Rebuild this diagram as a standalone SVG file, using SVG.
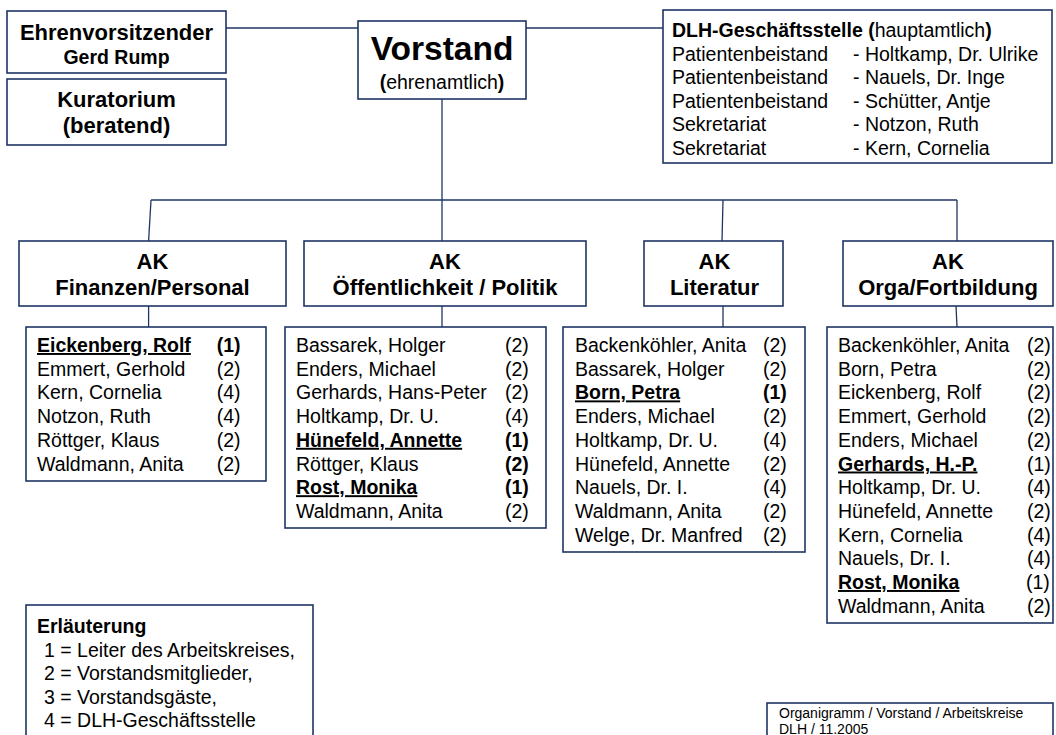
<svg xmlns="http://www.w3.org/2000/svg" width="1056" height="735" viewBox="0 0 1056 735">
<style>
  .box { fill: #ffffff; stroke: #1f3565; stroke-width: 1.6; }
  .ln { fill: none; stroke: #1f3565; stroke-width: 1.3; }
  text { font-family: "Liberation Sans", Arial, sans-serif; fill: #000000; }
  .t22 { font-size: 22px; font-weight: bold; }
  .sub { font-size: 19.5px; font-weight: bold; }
  .ls { font-size: 19.5px; }
  .dl { font-size: 19.5px; }
  .b { font-weight: bold; }
  .u { font-weight: bold; text-decoration: underline; }
  .mid { text-anchor: middle; }
</style>
<rect width="1056" height="735" fill="#ffffff"/>

<g id="connectors">
  <line class="ln" x1="226" y1="28" x2="358" y2="28"/>
  <line class="ln" x1="526" y1="28" x2="663" y2="28"/>
  <line class="ln" x1="442" y1="99" x2="442" y2="241"/>
  <line class="ln" x1="151" y1="200" x2="957" y2="200"/>
  <line class="ln" x1="151" y1="200" x2="148.6" y2="241"/>
  <line class="ln" x1="723" y1="200" x2="722" y2="241"/>
  <line class="ln" x1="957" y1="200" x2="957" y2="241"/>
  <line class="ln" x1="148.6" y1="306" x2="148.6" y2="327"/>
  <line class="ln" x1="442" y1="306" x2="442" y2="327"/>
  <line class="ln" x1="723" y1="306" x2="723" y2="327"/>
  <line class="ln" x1="956" y1="306" x2="957" y2="327"/>
</g>

<g id="ehrenvorsitzender">
  <rect class="box" x="7" y="11" width="219" height="62"/>
  <text class="t22 mid" x="116.5" y="39.5">Ehrenvorsitzender</text>
  <text class="sub mid" x="116.5" y="63.5">Gerd Rump</text>
</g>

<g id="kuratorium">
  <rect class="box" x="7" y="79" width="219" height="66"/>
  <text class="t22 mid" x="116.5" y="107">Kuratorium</text>
  <text class="t22 mid" x="116.5" y="133">(beratend)</text>
</g>

<g id="vorstand">
  <rect class="box" x="358" y="21" width="168" height="78"/>
  <text class="mid" x="442" y="59.5" style="font-size:33.5px;font-weight:bold">Vorstand</text>
  <text class="mid" x="442" y="88.5" style="font-size:19.5px"><tspan class="b">(</tspan>ehrenamtlich<tspan class="b">)</tspan></text>
</g>

<g id="geschaeftsstelle">
  <rect class="box" x="663" y="10" width="389" height="153"/>
  <text class="dl" x="672" y="37"><tspan class="b">DLH-Geschäftsstelle (</tspan>hauptamtlich<tspan class="b">)</tspan></text>
  <text class="dl" x="672" y="60.5">Patientenbeistand</text>
  <text class="dl" x="853" y="60.5">- Holtkamp, Dr. Ulrike</text>
  <text class="dl" x="672" y="84">Patientenbeistand</text>
  <text class="dl" x="853" y="84">- Nauels, Dr. Inge</text>
  <text class="dl" x="672" y="107.5">Patientenbeistand</text>
  <text class="dl" x="853" y="107.5">- Schütter, Antje</text>
  <text class="dl" x="672" y="131">Sekretariat</text>
  <text class="dl" x="853" y="131">- Notzon, Ruth</text>
  <text class="dl" x="672" y="154.5">Sekretariat</text>
  <text class="dl" x="853" y="154.5">- Kern, Cornelia</text>
</g>

<g id="ak-finanzen">
  <rect class="box" x="19" y="241" width="267" height="65"/>
  <text class="t22 mid" x="152.5" y="269">AK</text>
  <text class="t22 mid" x="152.5" y="295">Finanzen/Personal</text>
</g>
<g id="ak-oeffentlichkeit">
  <rect class="box" x="304" y="241" width="282" height="65"/>
  <text class="t22 mid" x="445" y="269">AK</text>
  <text class="t22 mid" x="445" y="295">Öffentlichkeit / Politik</text>
</g>
<g id="ak-literatur">
  <rect class="box" x="644" y="241" width="139" height="65"/>
  <text class="t22 mid" x="714.5" y="269">AK</text>
  <text class="t22 mid" x="714.5" y="295">Literatur</text>
</g>
<g id="ak-orga">
  <rect class="box" x="843" y="241" width="210" height="65"/>
  <text class="t22 mid" x="948" y="269">AK</text>
  <text class="t22 mid" x="948" y="295">Orga/Fortbildung</text>
</g>

<g id="liste-finanzen" class="ls">
  <rect class="box" x="26" y="327" width="240" height="154"/>
  <text class="ls u" x="37" y="352">Eickenberg, Rolf</text><text class="ls b" x="216.7" y="352">(1)</text>
  <text class="ls" x="37" y="375.7">Emmert, Gerhold</text><text class="ls" x="216.7" y="375.7">(2)</text>
  <text class="ls" x="37" y="399.4">Kern, Cornelia</text><text class="ls" x="216.7" y="399.4">(4)</text>
  <text class="ls" x="37" y="423.1">Notzon, Ruth</text><text class="ls" x="216.7" y="423.1">(4)</text>
  <text class="ls" x="37" y="446.8">Röttger, Klaus</text><text class="ls" x="216.7" y="446.8">(2)</text>
  <text class="ls" x="37" y="470.5">Waldmann, Anita</text><text class="ls" x="216.7" y="470.5">(2)</text>
</g>

<g id="liste-oeffentlichkeit">
  <rect class="box" x="285" y="327" width="261" height="201"/>
  <text class="ls" x="296" y="352">Bassarek, Holger</text><text class="ls" x="505" y="352">(2)</text>
  <text class="ls" x="296" y="375.7">Enders, Michael</text><text class="ls" x="505" y="375.7">(2)</text>
  <text class="ls" x="296" y="399.4">Gerhards, Hans-Peter</text><text class="ls" x="505" y="399.4">(2)</text>
  <text class="ls" x="296" y="423.1">Holtkamp, Dr. U.</text><text class="ls" x="505" y="423.1">(4)</text>
  <text class="ls u" x="296" y="446.8">Hünefeld, Annette</text><text class="ls b" x="505" y="446.8">(1)</text>
  <text class="ls" x="296" y="470.5">Röttger, Klaus</text><text class="ls b" x="505" y="470.5">(2)</text>
  <text class="ls u" x="296" y="494.2">Rost, Monika</text><text class="ls b" x="505" y="494.2">(1)</text>
  <text class="ls" x="296" y="517.9">Waldmann, Anita</text><text class="ls" x="505" y="517.9">(2)</text>
</g>

<g id="liste-literatur">
  <rect class="box" x="563" y="327" width="242" height="225"/>
  <text class="ls" x="575" y="352">Backenköhler, Anita</text><text class="ls" x="763" y="352">(2)</text>
  <text class="ls" x="575" y="375.7">Bassarek, Holger</text><text class="ls" x="763" y="375.7">(2)</text>
  <text class="ls u" x="575" y="399.4">Born, Petra</text><text class="ls b" x="763" y="399.4">(1)</text>
  <text class="ls" x="575" y="423.1">Enders, Michael</text><text class="ls" x="763" y="423.1">(2)</text>
  <text class="ls" x="575" y="446.8">Holtkamp, Dr. U.</text><text class="ls" x="763" y="446.8">(4)</text>
  <text class="ls" x="575" y="470.5">Hünefeld, Annette</text><text class="ls" x="763" y="470.5">(2)</text>
  <text class="ls" x="575" y="494.2">Nauels, Dr. I.</text><text class="ls" x="763" y="494.2">(4)</text>
  <text class="ls" x="575" y="517.9">Waldmann, Anita</text><text class="ls" x="763" y="517.9">(2)</text>
  <text class="ls" x="575" y="541.6">Welge, Dr. Manfred</text><text class="ls" x="763" y="541.6">(2)</text>
</g>

<g id="liste-orga">
  <rect class="box" x="827" y="327" width="226" height="296"/>
  <text class="ls" x="838" y="352">Backenköhler, Anita</text><text class="ls" x="1027" y="352">(2)</text>
  <text class="ls" x="838" y="375.7">Born, Petra</text><text class="ls" x="1027" y="375.7">(2)</text>
  <text class="ls" x="838" y="399.4">Eickenberg, Rolf</text><text class="ls" x="1027" y="399.4">(2)</text>
  <text class="ls" x="838" y="423.1">Emmert, Gerhold</text><text class="ls" x="1027" y="423.1">(2)</text>
  <text class="ls" x="838" y="446.8">Enders, Michael</text><text class="ls" x="1027" y="446.8">(2)</text>
  <text class="ls u" x="838" y="470.5">Gerhards, H.-P.</text><text class="ls" x="1027" y="470.5">(1)</text>
  <text class="ls" x="838" y="494.2">Holtkamp, Dr. U.</text><text class="ls" x="1027" y="494.2">(4)</text>
  <text class="ls" x="838" y="517.9">Hünefeld, Annette</text><text class="ls" x="1027" y="517.9">(2)</text>
  <text class="ls" x="838" y="541.6">Kern, Cornelia</text><text class="ls" x="1027" y="541.6">(4)</text>
  <text class="ls" x="838" y="565.3">Nauels, Dr. I.</text><text class="ls" x="1027" y="565.3">(4)</text>
  <text class="ls u" x="838" y="589">Rost, Monika</text><text class="ls" x="1026" y="589">(1)</text>
  <text class="ls" x="838" y="612.7">Waldmann, Anita</text><text class="ls" x="1027" y="612.7">(2)</text>
</g>

<g id="erlaeuterung">
  <rect class="box" x="26" y="605" width="287" height="145"/>
  <text class="ls b" x="37" y="633">Erläuterung</text>
  <text class="ls" x="44" y="656.5">1 = Leiter des Arbeitskreises,</text>
  <text class="ls" x="44" y="680">2 = Vorstandsmitglieder,</text>
  <text class="ls" x="44" y="703.5">3 = Vorstandsgäste,</text>
  <text class="ls" x="44" y="727">4 = DLH-Geschäftsstelle</text>
</g>

<g id="fusszeile">
  <rect class="box" x="767" y="703" width="286" height="50"/>
  <text x="779" y="717.5" style="font-size:14px">Organigramm / Vorstand / Arbeitskreise</text>
  <text x="779" y="733.5" style="font-size:14px">DLH / 11.2005</text>
</g>
</svg>
